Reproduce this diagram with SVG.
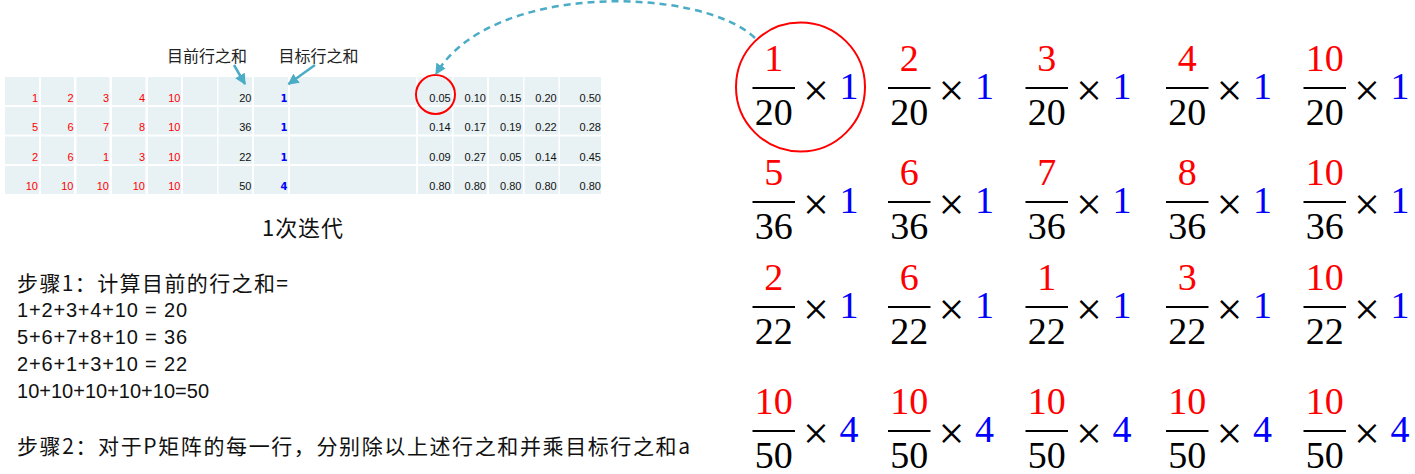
<svg xmlns="http://www.w3.org/2000/svg" width="1415" height="474" viewBox="0 0 1415 474">
<style>
.cell{fill:#E8F1F4}
.r{font-family:"Liberation Sans",Arial,sans-serif;font-size:11px;fill:#FF0000;text-anchor:end}
.k{font-family:"Liberation Sans",Arial,sans-serif;font-size:11px;fill:#111;text-anchor:end}
.b{font-family:"DejaVu Sans",Verdana,sans-serif;font-size:10px;font-weight:bold;fill:#0000FF;text-anchor:end}
.lbl{font-family:"Noto Sans CJK SC",sans-serif;font-size:16px;fill:#222}
.cap{font-family:"Noto Sans CJK SC",sans-serif;font-size:22px;fill:#111}
.st{font-family:"Noto Sans CJK SC",sans-serif;font-size:21px;fill:#111}
.dg{font-family:"Liberation Sans",Arial,sans-serif;font-size:20px;fill:#111}
.fn{font-family:"Liberation Serif","Times New Roman",serif;font-size:38px;fill:#FF0000;text-anchor:middle}
.fd{font-family:"Liberation Serif","Times New Roman",serif;font-size:38px;fill:#000;text-anchor:middle}
.fx{font-family:"Liberation Serif","Times New Roman",serif;font-size:46px;fill:#000;text-anchor:middle}
.fb{font-family:"Liberation Serif","Times New Roman",serif;font-size:38px;fill:#0000FF;text-anchor:middle}
.bar{stroke:#000;stroke-width:2}
.conn{stroke:#4BACC6;stroke-width:2.5;fill:none}
</style>
<defs>
<marker id="ah" viewBox="0 0 10 10" refX="9" refY="5" markerWidth="11" markerHeight="11" markerUnits="userSpaceOnUse" orient="auto">
<path d="M0,0 L10,5 L0,10 z" fill="#4BACC6"/>
</marker>
</defs>

<g id="table">
<g id="table-cells">
<rect class="cell" x="5" y="77" width="34" height="28"/><rect class="cell" x="41" y="77" width="33" height="28"/><rect class="cell" x="76.5" y="77" width="33" height="28"/><rect class="cell" x="112" y="77" width="33.5" height="28"/><rect class="cell" x="148" y="77" width="33" height="28"/><rect class="cell" x="183" y="77" width="34" height="28"/><rect class="cell" x="218.5" y="77" width="33.5" height="28"/><rect class="cell" x="254" y="77" width="34" height="28"/><rect class="cell" x="290" y="77" width="126" height="28"/><rect class="cell" x="418" y="77" width="34" height="28"/><rect class="cell" x="453.5" y="77" width="33.5" height="28"/><rect class="cell" x="489" y="77" width="34" height="28"/><rect class="cell" x="524.5" y="77" width="34" height="28"/><rect class="cell" x="560" y="77" width="41" height="28"/>
<rect class="cell" x="5" y="107" width="34" height="27.5"/><rect class="cell" x="41" y="107" width="33" height="27.5"/><rect class="cell" x="76.5" y="107" width="33" height="27.5"/><rect class="cell" x="112" y="107" width="33.5" height="27.5"/><rect class="cell" x="148" y="107" width="33" height="27.5"/><rect class="cell" x="183" y="107" width="34" height="27.5"/><rect class="cell" x="218.5" y="107" width="33.5" height="27.5"/><rect class="cell" x="254" y="107" width="34" height="27.5"/><rect class="cell" x="290" y="107" width="126" height="27.5"/><rect class="cell" x="418" y="107" width="34" height="27.5"/><rect class="cell" x="453.5" y="107" width="33.5" height="27.5"/><rect class="cell" x="489" y="107" width="34" height="27.5"/><rect class="cell" x="524.5" y="107" width="34" height="27.5"/><rect class="cell" x="560" y="107" width="41" height="27.5"/>
<rect class="cell" x="5" y="136.5" width="34" height="27.5"/><rect class="cell" x="41" y="136.5" width="33" height="27.5"/><rect class="cell" x="76.5" y="136.5" width="33" height="27.5"/><rect class="cell" x="112" y="136.5" width="33.5" height="27.5"/><rect class="cell" x="148" y="136.5" width="33" height="27.5"/><rect class="cell" x="183" y="136.5" width="34" height="27.5"/><rect class="cell" x="218.5" y="136.5" width="33.5" height="27.5"/><rect class="cell" x="254" y="136.5" width="34" height="27.5"/><rect class="cell" x="290" y="136.5" width="126" height="27.5"/><rect class="cell" x="418" y="136.5" width="34" height="27.5"/><rect class="cell" x="453.5" y="136.5" width="33.5" height="27.5"/><rect class="cell" x="489" y="136.5" width="34" height="27.5"/><rect class="cell" x="524.5" y="136.5" width="34" height="27.5"/><rect class="cell" x="560" y="136.5" width="41" height="27.5"/>
<rect class="cell" x="5" y="166" width="34" height="28"/><rect class="cell" x="41" y="166" width="33" height="28"/><rect class="cell" x="76.5" y="166" width="33" height="28"/><rect class="cell" x="112" y="166" width="33.5" height="28"/><rect class="cell" x="148" y="166" width="33" height="28"/><rect class="cell" x="183" y="166" width="34" height="28"/><rect class="cell" x="218.5" y="166" width="33.5" height="28"/><rect class="cell" x="254" y="166" width="34" height="28"/><rect class="cell" x="290" y="166" width="126" height="28"/><rect class="cell" x="418" y="166" width="34" height="28"/><rect class="cell" x="453.5" y="166" width="33.5" height="28"/><rect class="cell" x="489" y="166" width="34" height="28"/><rect class="cell" x="524.5" y="166" width="34" height="28"/><rect class="cell" x="560" y="166" width="41" height="28"/>
</g>
<g id="table-values">
<text class="r" x="38" y="101.5">1</text><text class="r" x="73.5" y="101.5">2</text><text class="r" x="109" y="101.5">3</text><text class="r" x="145" y="101.5">4</text><text class="r" x="180.5" y="101.5">10</text><text class="k" x="251.5" y="101.5">20</text><text class="b" x="287.5" y="101.5">1</text>
<text class="k" x="450.7" y="101.5">0.05</text><text class="k" x="486" y="101.5">0.10</text><text class="k" x="521.5" y="101.5">0.15</text><text class="k" x="556.7" y="101.5">0.20</text><text class="k" x="601" y="101.5">0.50</text>
<text class="r" x="38" y="131">5</text><text class="r" x="73.5" y="131">6</text><text class="r" x="109" y="131">7</text><text class="r" x="145" y="131">8</text><text class="r" x="180.5" y="131">10</text><text class="k" x="251.5" y="131">36</text><text class="b" x="287.5" y="131">1</text>
<text class="k" x="450.7" y="131">0.14</text><text class="k" x="486" y="131">0.17</text><text class="k" x="521.5" y="131">0.19</text><text class="k" x="556.7" y="131">0.22</text><text class="k" x="601" y="131">0.28</text>
<text class="r" x="38" y="160.5">2</text><text class="r" x="73.5" y="160.5">6</text><text class="r" x="109" y="160.5">1</text><text class="r" x="145" y="160.5">3</text><text class="r" x="180.5" y="160.5">10</text><text class="k" x="251.5" y="160.5">22</text><text class="b" x="287.5" y="160.5">1</text>
<text class="k" x="450.7" y="160.5">0.09</text><text class="k" x="486" y="160.5">0.27</text><text class="k" x="521.5" y="160.5">0.05</text><text class="k" x="556.7" y="160.5">0.14</text><text class="k" x="601" y="160.5">0.45</text>
<text class="r" x="38" y="190">10</text><text class="r" x="73.5" y="190">10</text><text class="r" x="109" y="190">10</text><text class="r" x="145" y="190">10</text><text class="r" x="180.5" y="190">10</text><text class="k" x="251.5" y="190">50</text><text class="b" x="287.5" y="190">4</text>
<text class="k" x="450.7" y="190">0.80</text><text class="k" x="486" y="190">0.80</text><text class="k" x="521.5" y="190">0.80</text><text class="k" x="556.7" y="190">0.80</text><text class="k" x="601" y="190">0.80</text>
</g>
<circle id="cell-highlight" cx="435.5" cy="94.5" r="19.5" fill="none" stroke="#FF0000" stroke-width="2"/>
</g>

<g id="label-current"><text class="lbl" x="167" y="62" textLength="80">目前行之和</text></g>
<g id="label-target"><text class="lbl" x="278.5" y="62" textLength="80">目标行之和</text></g>
<g id="caption"><text class="cap" x="262" y="236" textLength="81">1次迭代</text></g>

<g id="steps">
<text class="st" x="17" y="290.5" textLength="271">步骤1：计算目前的行之和=</text>
<text class="dg" x="17" y="316.5" textLength="170">1+2+3+4+10 = 20</text>
<text class="dg" x="17" y="343.5" textLength="170">5+6+7+8+10 = 36</text>
<text class="dg" x="17" y="370.5" textLength="170">2+6+1+3+10 = 22</text>
<text class="dg" x="17" y="397.5" textLength="192">10+10+10+10+10=50</text>
<text class="st" x="17" y="454" textLength="673">步骤2：对于P矩阵的每一行，分别除以上述行之和并乘目标行之和a</text>
</g>

<g id="fractions">
<g id="f11" transform="translate(752.5,88)"><line class="bar" x1="0" y1="0" x2="42.5" y2="0"/><text class="fn" x="21.25" y="-17">1</text><text class="fd" x="21.25" y="37">20</text><text class="fx" x="63.5" y="18">×</text><text class="fb" x="96.5" y="11">1</text></g>
<g id="f12" transform="translate(888,88)"><line class="bar" x1="0" y1="0" x2="42.5" y2="0"/><text class="fn" x="21.25" y="-17">2</text><text class="fd" x="21.25" y="37">20</text><text class="fx" x="63.5" y="18">×</text><text class="fb" x="96.5" y="11">1</text></g>
<g id="f13" transform="translate(1025.5,88)"><line class="bar" x1="0" y1="0" x2="42.5" y2="0"/><text class="fn" x="21.25" y="-17">3</text><text class="fd" x="21.25" y="37">20</text><text class="fx" x="63.5" y="18">×</text><text class="fb" x="96.5" y="11">1</text></g>
<g id="f14" transform="translate(1166,88)"><line class="bar" x1="0" y1="0" x2="42.5" y2="0"/><text class="fn" x="21.25" y="-17">4</text><text class="fd" x="21.25" y="37">20</text><text class="fx" x="63.5" y="18">×</text><text class="fb" x="96.5" y="11">1</text></g>
<g id="f15" transform="translate(1303.5,88)"><line class="bar" x1="0" y1="0" x2="42.5" y2="0"/><text class="fn" x="21.25" y="-17">10</text><text class="fd" x="21.25" y="37">20</text><text class="fx" x="63.5" y="18">×</text><text class="fb" x="96.5" y="11">1</text></g>

<g id="f21" transform="translate(752.5,202)"><line class="bar" x1="0" y1="0" x2="42.5" y2="0"/><text class="fn" x="21.25" y="-17">5</text><text class="fd" x="21.25" y="37">36</text><text class="fx" x="63.5" y="18">×</text><text class="fb" x="96.5" y="11">1</text></g>
<g id="f22" transform="translate(888,202)"><line class="bar" x1="0" y1="0" x2="42.5" y2="0"/><text class="fn" x="21.25" y="-17">6</text><text class="fd" x="21.25" y="37">36</text><text class="fx" x="63.5" y="18">×</text><text class="fb" x="96.5" y="11">1</text></g>
<g id="f23" transform="translate(1025.5,202)"><line class="bar" x1="0" y1="0" x2="42.5" y2="0"/><text class="fn" x="21.25" y="-17">7</text><text class="fd" x="21.25" y="37">36</text><text class="fx" x="63.5" y="18">×</text><text class="fb" x="96.5" y="11">1</text></g>
<g id="f24" transform="translate(1166,202)"><line class="bar" x1="0" y1="0" x2="42.5" y2="0"/><text class="fn" x="21.25" y="-17">8</text><text class="fd" x="21.25" y="37">36</text><text class="fx" x="63.5" y="18">×</text><text class="fb" x="96.5" y="11">1</text></g>
<g id="f25" transform="translate(1303.5,202)"><line class="bar" x1="0" y1="0" x2="42.5" y2="0"/><text class="fn" x="21.25" y="-17">10</text><text class="fd" x="21.25" y="37">36</text><text class="fx" x="63.5" y="18">×</text><text class="fb" x="96.5" y="11">1</text></g>

<g id="f31" transform="translate(752.5,307)"><line class="bar" x1="0" y1="0" x2="42.5" y2="0"/><text class="fn" x="21.25" y="-17">2</text><text class="fd" x="21.25" y="37">22</text><text class="fx" x="63.5" y="18">×</text><text class="fb" x="96.5" y="11">1</text></g>
<g id="f32" transform="translate(888,307)"><line class="bar" x1="0" y1="0" x2="42.5" y2="0"/><text class="fn" x="21.25" y="-17">6</text><text class="fd" x="21.25" y="37">22</text><text class="fx" x="63.5" y="18">×</text><text class="fb" x="96.5" y="11">1</text></g>
<g id="f33" transform="translate(1025.5,307)"><line class="bar" x1="0" y1="0" x2="42.5" y2="0"/><text class="fn" x="21.25" y="-17">1</text><text class="fd" x="21.25" y="37">22</text><text class="fx" x="63.5" y="18">×</text><text class="fb" x="96.5" y="11">1</text></g>
<g id="f34" transform="translate(1166,307)"><line class="bar" x1="0" y1="0" x2="42.5" y2="0"/><text class="fn" x="21.25" y="-17">3</text><text class="fd" x="21.25" y="37">22</text><text class="fx" x="63.5" y="18">×</text><text class="fb" x="96.5" y="11">1</text></g>
<g id="f35" transform="translate(1303.5,307)"><line class="bar" x1="0" y1="0" x2="42.5" y2="0"/><text class="fn" x="21.25" y="-17">10</text><text class="fd" x="21.25" y="37">22</text><text class="fx" x="63.5" y="18">×</text><text class="fb" x="96.5" y="11">1</text></g>

<g id="f41" transform="translate(752.5,431)"><line class="bar" x1="0" y1="0" x2="42.5" y2="0"/><text class="fn" x="21.25" y="-17">10</text><text class="fd" x="21.25" y="37">50</text><text class="fx" x="63.5" y="18">×</text><text class="fb" x="96.5" y="11">4</text></g>
<g id="f42" transform="translate(888,431)"><line class="bar" x1="0" y1="0" x2="42.5" y2="0"/><text class="fn" x="21.25" y="-17">10</text><text class="fd" x="21.25" y="37">50</text><text class="fx" x="63.5" y="18">×</text><text class="fb" x="96.5" y="11">4</text></g>
<g id="f43" transform="translate(1025.5,431)"><line class="bar" x1="0" y1="0" x2="42.5" y2="0"/><text class="fn" x="21.25" y="-17">10</text><text class="fd" x="21.25" y="37">50</text><text class="fx" x="63.5" y="18">×</text><text class="fb" x="96.5" y="11">4</text></g>
<g id="f44" transform="translate(1166,431)"><line class="bar" x1="0" y1="0" x2="42.5" y2="0"/><text class="fn" x="21.25" y="-17">10</text><text class="fd" x="21.25" y="37">50</text><text class="fx" x="63.5" y="18">×</text><text class="fb" x="96.5" y="11">4</text></g>
<g id="f45" transform="translate(1303.5,431)"><line class="bar" x1="0" y1="0" x2="42.5" y2="0"/><text class="fn" x="21.25" y="-17">10</text><text class="fd" x="21.25" y="37">50</text><text class="fx" x="63.5" y="18">×</text><text class="fb" x="96.5" y="11">4</text></g>
</g>

<circle id="fraction-highlight" cx="800.5" cy="87" r="64.5" fill="none" stroke="#FF0000" stroke-width="2"/>

<g id="connectors">
<line class="conn" x1="234" y1="65" x2="245" y2="84" marker-end="url(#ah)"/>
<line class="conn" x1="315" y1="65" x2="288.5" y2="84" marker-end="url(#ah)"/>
<path class="conn" d="M755,38 C700,-14 490,-18 436,74" stroke-width="2" stroke-dasharray="7,5" marker-end="url(#ah)"/>
</g>
</svg>
